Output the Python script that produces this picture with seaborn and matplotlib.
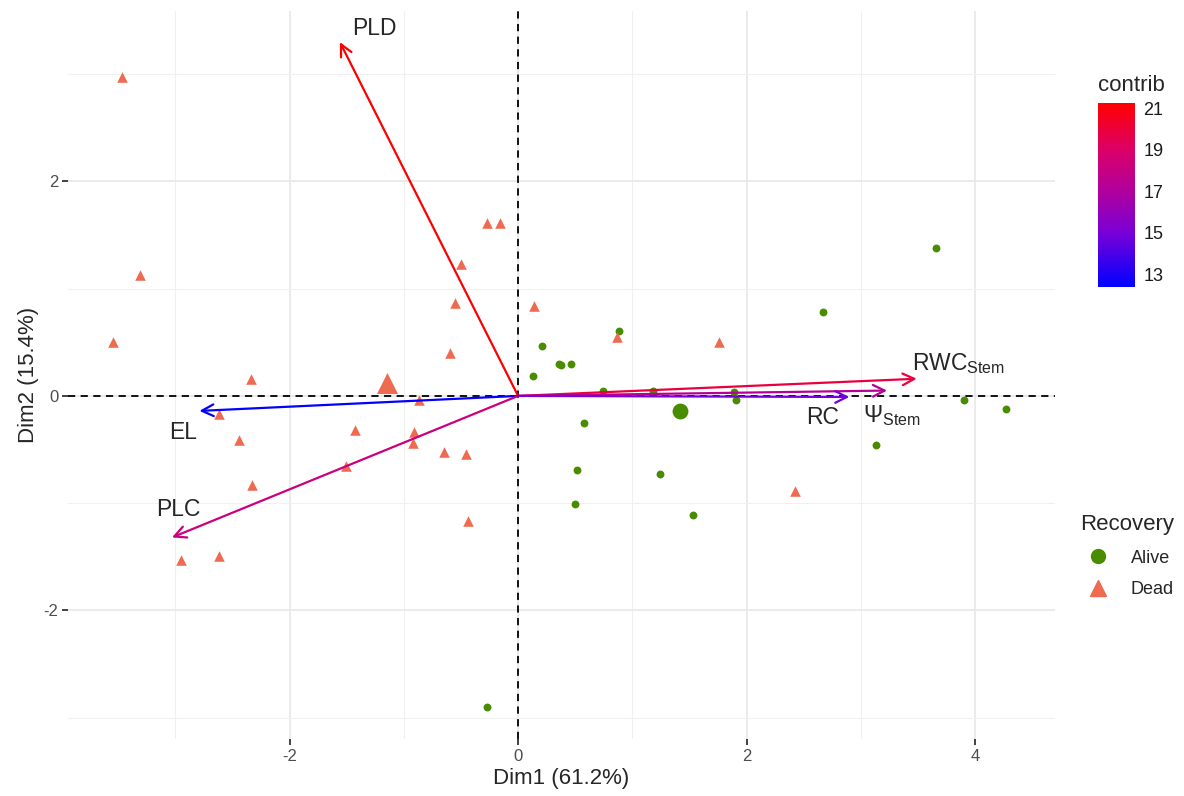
import numpy as np
import pandas as pd
import seaborn as sns
import matplotlib.pyplot as plt
from matplotlib.colors import LinearSegmentedColormap, Normalize
from matplotlib.cm import ScalarMappable
from matplotlib.lines import Line2D

# individuals (PCA scores)
alive_x = [3.66, 2.67, 0.88, 0.21, 0.355, 0.377, 0.46, 0.13, 0.74, 1.18, 1.89, 1.91,
           0.58, 3.90, 4.27, 3.13, 0.52, 1.24, 0.50, 1.53, -0.27]
alive_y = [1.38, 0.78, 0.61, 0.47, 0.295, 0.286, 0.30, 0.19, 0.05, 0.05, 0.04, -0.04,
           -0.25, -0.04, -0.12, -0.46, -0.69, -0.73, -1.01, -1.11, -2.90]
dead_x = [-3.47, -3.31, -3.55, -2.34, -0.87, -2.62, -2.44, -2.33, -2.95, -2.62, -1.43,
          -0.91, -0.92, -0.65, -0.46, -1.51, -0.44, -0.27, -0.16, -0.50, -0.55, -0.60,
          0.14, 0.87, 1.76, 2.42]
dead_y = [2.97, 1.13, 0.50, 0.16, -0.04, -0.17, -0.41, -0.83, -1.53, -1.49, -0.32,
          -0.34, -0.44, -0.52, -0.54, -0.65, -1.17, 1.61, 1.61, 1.23, 0.87, 0.40,
          0.835, 0.55, 0.50, -0.89]
# group centres
mean_group = ["Alive", "Dead"]
mean_x = [1.42, -1.15]
mean_y = [-0.14, 0.12]

# variables
var_names = ["PLD", "EL", "PLC", r"RWC$_{\rm Stem}$", r"$\Psi_{\rm Stem}$", "RC"]
var_x = [-1.56, -2.79, -3.03, 3.49, 3.23, 2.90]
var_y = [3.30, -0.14, -1.32, 0.16, 0.05, -0.01]
var_contrib = [21.2, 12.45, 18.2, 19.9, 17.3, 14.9]

df = pd.DataFrame({
    "Dim1": alive_x + dead_x,
    "Dim2": alive_y + dead_y,
    "Recovery": ["Alive"] * len(alive_x) + ["Dead"] * len(dead_x),
})
means = pd.DataFrame({"Dim1": mean_x, "Dim2": mean_y, "Recovery": mean_group})

sns.set_theme(style="whitegrid")
plt.rcParams["font.family"] = ["Liberation Sans", "DejaVu Sans"]
plt.rcParams["mathtext.fontset"] = "custom"
plt.rcParams["mathtext.rm"] = "Liberation Sans"
plt.rcParams["mathtext.it"] = "Liberation Sans"
plt.rcParams["axes.unicode_minus"] = False

palette = {"Alive": "#4A8C00", "Dead": "#EE6B52"}
markers = {"Alive": "o", "Dead": "^"}
cmap = LinearSegmentedColormap.from_list(
    "contrib", [(0, "#0000FF"), (0.29, "#7800D8"), (0.52, "#B0009E"),
                (0.75, "#DC0066"), (1, "#FF0000")])
norm = Normalize(vmin=12.4, vmax=21.25)

fig = plt.figure(figsize=(11.84, 7.96), dpi=100)
ax = fig.add_axes([68 / 1184, 1 - 739 / 796, 987 / 1184, 728 / 796])

# grid
ax.set_xlim(-3.94, 4.70)
ax.set_ylim(-3.20, 3.59)
ax.set_xticks([-2, 0, 2, 4])
ax.set_yticks([-2, 0, 2])
ax.set_xticks([-3, -1, 1, 3], minor=True)
ax.set_yticks([-3, -1, 1, 3], minor=True)
ax.grid(which="major", color="#E8E8E8", linewidth=1.2)
ax.grid(which="minor", color="#F0F0F0", linewidth=0.8)
for s in ax.spines.values():
    s.set_visible(False)
ax.tick_params(which="major", length=4, width=1.3, color="#333333",
               labelsize=12, labelcolor="#4D4D4D", bottom=True, left=True, pad=3)
ax.tick_params(which="minor", length=0)

ax.axhline(0, color="black", linestyle=(0, (4, 3)), linewidth=1.3, zorder=1)
ax.axvline(0, color="black", linestyle=(0, (4, 3)), linewidth=1.3, zorder=1)

for grp, sz in [("Alive", 32), ("Dead", 58)]:
    sub = df[df["Recovery"] == grp]
    sns.scatterplot(data=sub, x="Dim1", y="Dim2", color=palette[grp], marker=markers[grp],
                    s=sz, linewidth=0, ax=ax, legend=False, zorder=2)
for grp, sz in [("Alive", 130), ("Dead", 230)]:
    sub = means[means["Recovery"] == grp]
    sns.scatterplot(data=sub, x="Dim1", y="Dim2", color=palette[grp], marker=markers[grp],
                    s=sz, linewidth=0, ax=ax, legend=False, zorder=2)

# variable arrows
for vx, vy, c in zip(var_x, var_y, var_contrib):
    ax.annotate("", xy=(vx, vy), xytext=(0, 0),
                arrowprops=dict(arrowstyle="->,head_length=0.7,head_width=0.35",
                                color=cmap(norm(c)), lw=1.6, shrinkA=0, shrinkB=0),
                zorder=3)

lab_fs = 16.5
ax.text(-1.26, 3.43, var_names[0], fontsize=lab_fs, ha="center", va="center")
ax.text(-2.93, -0.345, var_names[1], fontsize=lab_fs, ha="center", va="center")
ax.text(-2.97, -1.06, var_names[2], fontsize=lab_fs, ha="center", va="center")
ax.text(3.45, 0.24, var_names[3], fontsize=lab_fs, ha="left", va="baseline")
ax.text(3.02, -0.245, var_names[4], fontsize=lab_fs, ha="left", va="baseline")
ax.text(2.52, -0.26, var_names[5], fontsize=lab_fs, ha="left", va="baseline")

ax.set_xlabel("Dim1 (61.2%)", fontsize=16, labelpad=3)
ax.set_ylabel("Dim2 (15.4%)", fontsize=16, labelpad=3)

# colourbar
cax = fig.add_axes([1098 / 1184, 1 - 287 / 796, 37 / 1184, 184 / 796])
cb = fig.colorbar(ScalarMappable(norm=norm, cmap=cmap), cax=cax, ticks=[13, 15, 17, 19, 21])
cb.outline.set_visible(False)
cax.tick_params(axis="y", which="both", direction="in", color="white", length=6,
                width=1, left=True, right=True, labelsize=13, labelcolor="#1A1A1A", pad=6)
cax.minorticks_off()
fig.text(1098 / 1184, 1 - 96 / 796, "contrib", fontsize=16, ha="left", va="bottom")

# group legend
handles = [Line2D([], [], marker="o", linestyle="", color=palette["Alive"], markersize=10),
           Line2D([], [], marker="^", linestyle="", color=palette["Dead"], markersize=12)]
leg = fig.legend(handles, ["Alive", "Dead"], title="Recovery", loc="upper left",
                 bbox_to_anchor=(1064 / 1184, 1 - 498 / 796), frameon=False,
                 fontsize=13, title_fontsize=16, handletextpad=0.8, labelspacing=0.8)
leg._legend_box.align = "left"

fig.savefig("out.png", dpi=100)
